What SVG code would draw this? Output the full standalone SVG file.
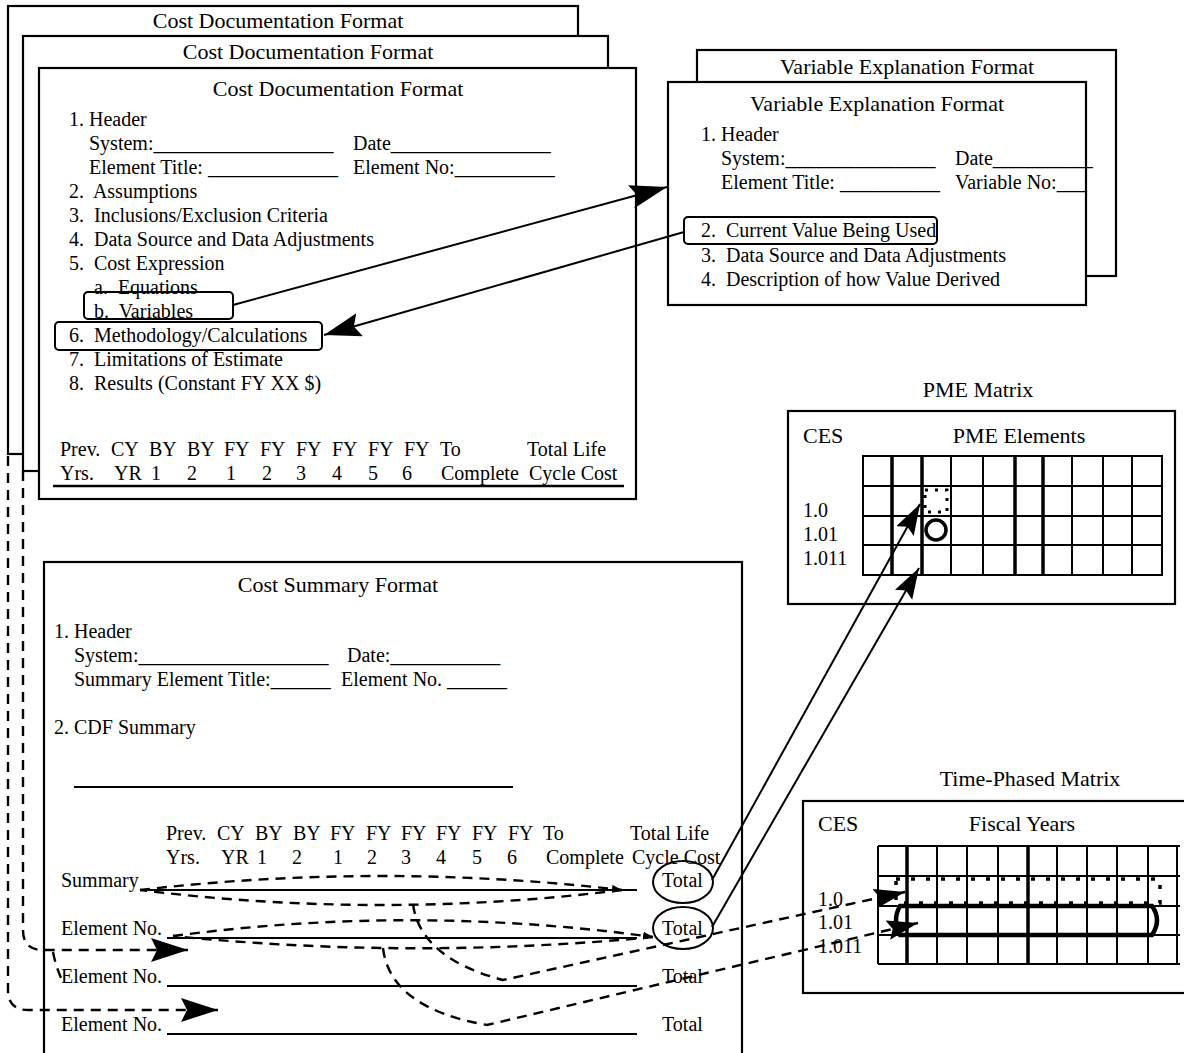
<svg xmlns="http://www.w3.org/2000/svg" width="1184" height="1053" viewBox="0 0 1184 1053">
<style>
.t{font-family:"Liberation Serif","Times New Roman",serif;font-size:20px;fill:#000;white-space:pre}
.h{font-size:22px}
.c{text-anchor:middle}
.box{fill:#fff;stroke:#000;stroke-width:2.2}
.ln{stroke:#000;stroke-width:2;fill:none}
.thk{stroke:#000;stroke-width:3.5;fill:none}
.rb{fill:none;stroke:#000;stroke-width:2;}
.dash{stroke:#000;stroke-width:2.4;fill:none;stroke-dasharray:10 7}
</style>
<defs>
<marker id="big" markerUnits="userSpaceOnUse" markerWidth="40" markerHeight="26" refX="37" refY="12" orient="auto"><path d="M0,0 L37,12 L0,24 L6,12 Z" fill="#000"/></marker>
<marker id="med" markerUnits="userSpaceOnUse" markerWidth="34" markerHeight="22" refX="31" refY="10" orient="auto"><path d="M0,0 L31,10 L0,20 L5,10 Z" fill="#000"/></marker>
<marker id="sm" markerUnits="userSpaceOnUse" markerWidth="12" markerHeight="10" refX="10" refY="4" orient="auto"><path d="M0,0 L10,4 L0,8 Z" fill="#000"/></marker>
</defs>

<g id="cdf-back1">
<rect class="box" x="8" y="6" width="570" height="448"/>
<text class="t h c" x="278" y="28">Cost Documentation Format</text>
</g>
<g id="cdf-back2">
<rect class="box" x="23" y="36" width="585" height="435"/>
<text class="t h c" x="308" y="59">Cost Documentation Format</text>
</g>
<g id="cdf-front">
<rect class="box" x="39" y="68" width="597" height="431"/>
<text class="t h c" x="338" y="96">Cost Documentation Format</text>
<text class="t" x="69" y="126">1. Header</text>
<text class="t" x="89" y="150">System:__________________</text>
<text class="t" x="353" y="150">Date________________</text>
<text class="t" x="89" y="174">Element Title: _____________</text>
<text class="t" x="353" y="174">Element No:__________</text>
<text class="t" x="69" y="198">2.  Assumptions</text>
<text class="t" x="69" y="222">3.  Inclusions/Exclusion Criteria</text>
<text class="t" x="69" y="246">4.  Data Source and Data Adjustments</text>
<text class="t" x="69" y="270">5.  Cost Expression</text>
<text class="t" x="94" y="294">a.  Equations</text>
<text class="t" x="94" y="318">b.  Variables</text>
<text class="t" x="69" y="342">6.  Methodology/Calculations</text>
<text class="t" x="69" y="366">7.  Limitations of Estimate</text>
<text class="t" x="69" y="390">8.  Results (Constant FY XX $)</text>
<rect class="rb" x="84" y="292" width="149" height="27" rx="4"/>
<rect class="rb" x="55" y="322" width="267" height="28" rx="4"/>
<text class="t" y="456"><tspan x="60">Prev.</tspan><tspan x="111">CY</tspan><tspan x="149">BY</tspan><tspan x="187">BY</tspan><tspan x="224">FY</tspan><tspan x="260">FY</tspan><tspan x="296">FY</tspan><tspan x="332">FY</tspan><tspan x="368">FY</tspan><tspan x="404">FY</tspan><tspan x="440">To</tspan><tspan x="527">Total Life</tspan></text>
<text class="t" y="480"><tspan x="60">Yrs.</tspan><tspan x="114">YR</tspan><tspan x="151">1</tspan><tspan x="187">2</tspan><tspan x="226">1</tspan><tspan x="262">2</tspan><tspan x="296">3</tspan><tspan x="332">4</tspan><tspan x="368">5</tspan><tspan x="402">6</tspan><tspan x="441">Complete</tspan><tspan x="529">Cycle Cost</tspan></text>
<line x1="53" y1="486" x2="624" y2="486" stroke="#000" stroke-width="2.5"/>
</g>

<g id="vef-back">
<rect class="box" x="697" y="50" width="419" height="226"/>
<text class="t h c" x="907" y="74">Variable Explanation Format</text>
</g>
<g id="vef-front">
<rect class="box" x="668" y="82" width="418" height="223"/>
<text class="t h c" x="877" y="111">Variable Explanation Format</text>
<text class="t" x="701" y="141">1. Header</text>
<text class="t" x="721" y="165">System:_______________</text>
<text class="t" x="955" y="165">Date__________</text>
<text class="t" x="721" y="189">Element Title: __________</text>
<text class="t" x="955" y="189">Variable No:___</text>
<text class="t" x="701" y="237">2.  Current Value Being Used</text>
<text class="t" x="701" y="262">3.  Data Source and Data Adjustments</text>
<text class="t" x="701" y="286">4.  Description of how Value Derived</text>
<rect class="rb" x="684" y="217" width="253" height="27" rx="4"/>
</g>

<g id="csf">
<rect class="box" x="44" y="562" width="698" height="500"/>
<text class="t h c" x="338" y="592">Cost Summary Format</text>
<text class="t" x="54" y="638">1. Header</text>
<text class="t" x="74" y="662">System:___________________</text>
<text class="t" x="347" y="662">Date:___________</text>
<text class="t" x="74" y="686">Summary Element Title:______</text>
<text class="t" x="341" y="686">Element No. ______</text>
<text class="t" x="54" y="734">2. CDF Summary</text>
<line class="ln" x1="74" y1="787" x2="513" y2="787"/>
<text class="t" y="840"><tspan x="166">Prev.</tspan><tspan x="217">CY</tspan><tspan x="255">BY</tspan><tspan x="293">BY</tspan><tspan x="330">FY</tspan><tspan x="366">FY</tspan><tspan x="401">FY</tspan><tspan x="436">FY</tspan><tspan x="472">FY</tspan><tspan x="508">FY</tspan><tspan x="543">To</tspan><tspan x="630">Total Life</tspan></text>
<text class="t" y="864"><tspan x="166">Yrs.</tspan><tspan x="221">YR</tspan><tspan x="257">1</tspan><tspan x="292">2</tspan><tspan x="333">1</tspan><tspan x="367">2</tspan><tspan x="401">3</tspan><tspan x="436">4</tspan><tspan x="472">5</tspan><tspan x="507">6</tspan><tspan x="546">Complete</tspan><tspan x="632">Cycle Cost</tspan></text>
<text class="t" x="61" y="887">Summary</text>
<text class="t" x="61" y="935">Element No.</text>
<text class="t" x="61" y="983">Element No.</text>
<text class="t" x="61" y="1031">Element No.</text>
<line class="ln" x1="140" y1="890" x2="637" y2="890"/>
<line class="ln" x1="167" y1="938" x2="637" y2="938"/>
<line class="ln" x1="167" y1="986" x2="637" y2="986"/>
<line class="ln" x1="167" y1="1034" x2="637" y2="1034"/>
<text class="t" x="662" y="887">Total</text>
<text class="t" x="662" y="935">Total</text>
<text class="t" x="662" y="983">Total</text>
<text class="t" x="662" y="1031">Total</text>
<ellipse class="ln" cx="683" cy="882" rx="30" ry="21"/>
<ellipse class="ln" cx="683" cy="928" rx="30" ry="21"/>
</g>

<g id="pme">
<text class="t h c" x="978" y="397">PME Matrix</text>
<rect class="box" x="788" y="411" width="387" height="193"/>
<text class="t h" x="803" y="443">CES</text>
<text class="t h c" x="1019" y="443">PME Elements</text>
<text class="t" x="803" y="517">1.0</text>
<text class="t" x="803" y="541">1.01</text>
<text class="t" x="803" y="565">1.011</text>
<g class="ln" stroke-width="2.2">
<line x1="862" y1="456" x2="1163" y2="456"/>
<line x1="862" y1="486" x2="1163" y2="486"/>
<line x1="862" y1="516" x2="1163" y2="516"/>
<line x1="862" y1="545" x2="1163" y2="545"/>
<line x1="862" y1="575" x2="1163" y2="575"/>
<line x1="863" y1="456" x2="863" y2="575"/>
<line x1="951" y1="456" x2="951" y2="575"/>
<line x1="983" y1="456" x2="983" y2="575"/>
<line x1="1072" y1="456" x2="1072" y2="575"/>
<line x1="1103" y1="456" x2="1103" y2="575"/>
<line x1="1132" y1="456" x2="1132" y2="575"/>
<line x1="1162" y1="456" x2="1162" y2="575"/>
</g>
<g class="thk">
<line x1="892" y1="456" x2="892" y2="575"/>
<line x1="922" y1="456" x2="922" y2="575"/>
<line x1="1015" y1="456" x2="1015" y2="575"/>
<line x1="1043" y1="456" x2="1043" y2="575"/>
</g>
<rect x="925" y="490" width="22" height="22" fill="#fff" stroke="#000" stroke-width="3" stroke-dasharray="3 7"/>
<circle cx="936" cy="530" r="10" fill="#fff" stroke="#000" stroke-width="3.5"/>
</g>

<g id="tpm">
<text class="t h c" x="1030" y="786">Time-Phased Matrix</text>
<rect class="box" x="803" y="801" width="390" height="192"/>
<text class="t h" x="818" y="831">CES</text>
<text class="t h c" x="1022" y="831">Fiscal Years</text>
<text class="t" x="818" y="906">1.0</text>
<text class="t" x="818" y="929">1.01</text>
<text class="t" x="818" y="953">1.011</text>
<g class="ln" stroke-width="2.2">
<line x1="878" y1="846" x2="1180" y2="846"/>
<line x1="878" y1="876" x2="1180" y2="876"/>
<line x1="878" y1="906" x2="1180" y2="906"/>
<line x1="878" y1="935" x2="1180" y2="935"/>
<line x1="878" y1="964" x2="1180" y2="964"/>
<line x1="878" y1="846" x2="878" y2="964"/>
<line x1="937" y1="846" x2="937" y2="964"/>
<line x1="967" y1="846" x2="967" y2="964"/>
<line x1="998" y1="846" x2="998" y2="964"/>
<line x1="1057" y1="846" x2="1057" y2="964"/>
<line x1="1087" y1="846" x2="1087" y2="964"/>
<line x1="1117" y1="846" x2="1117" y2="964"/>
<line x1="1148" y1="846" x2="1148" y2="964"/>
<line x1="1177" y1="846" x2="1177" y2="964"/>
</g>
<g class="thk">
<line x1="907" y1="846" x2="907" y2="964"/>
<line x1="1028" y1="846" x2="1028" y2="964"/>
</g>
<rect x="896" y="879" width="264" height="24" fill="none" stroke="#000" stroke-width="3.5" stroke-dasharray="4 11"/>
<path d="M900,906 L1152,906 Q1162,920 1152,935 L900,935 Q892,920 900,906 Z" fill="none" stroke="#000" stroke-width="4.5"/>
</g>

<g id="connectors">
<line class="ln" x1="233" y1="305" x2="667" y2="187" marker-end="url(#big)"/>
<line class="ln" x1="684" y1="232" x2="324" y2="335" marker-end="url(#big)"/>
<line class="ln" x1="712" y1="880" x2="920" y2="504" marker-end="url(#med)"/>
<line class="ln" x1="712" y1="927" x2="919" y2="568" marker-end="url(#med)"/>
<path class="dash" d="M140,890 Q381,862 622,890" marker-end="url(#sm)"/>
<path class="dash" d="M622,890 Q381,920 140,890"/>
<path class="dash" d="M173,936 Q413,904 653,937" marker-end="url(#sm)"/>
<path class="dash" d="M653,937 Q413,960 173,936"/>
<path class="dash" d="M413,904 Q420,958 503,980 L905,892" marker-end="url(#med)"/>
<path class="dash" d="M383,948 Q390,1008 487,1025 L918,923" marker-end="url(#med)"/>
<path class="dash" d="M8,456 L8,990 Q8,1010 28,1010 L218,1010" marker-end="url(#big)"/>
<path class="dash" d="M23,471 L23,930 Q23,950 43,950 L188,950" marker-end="url(#big)"/>
<path class="dash" d="M53,952 Q56,968 63,982"/>
</g>
</svg>
